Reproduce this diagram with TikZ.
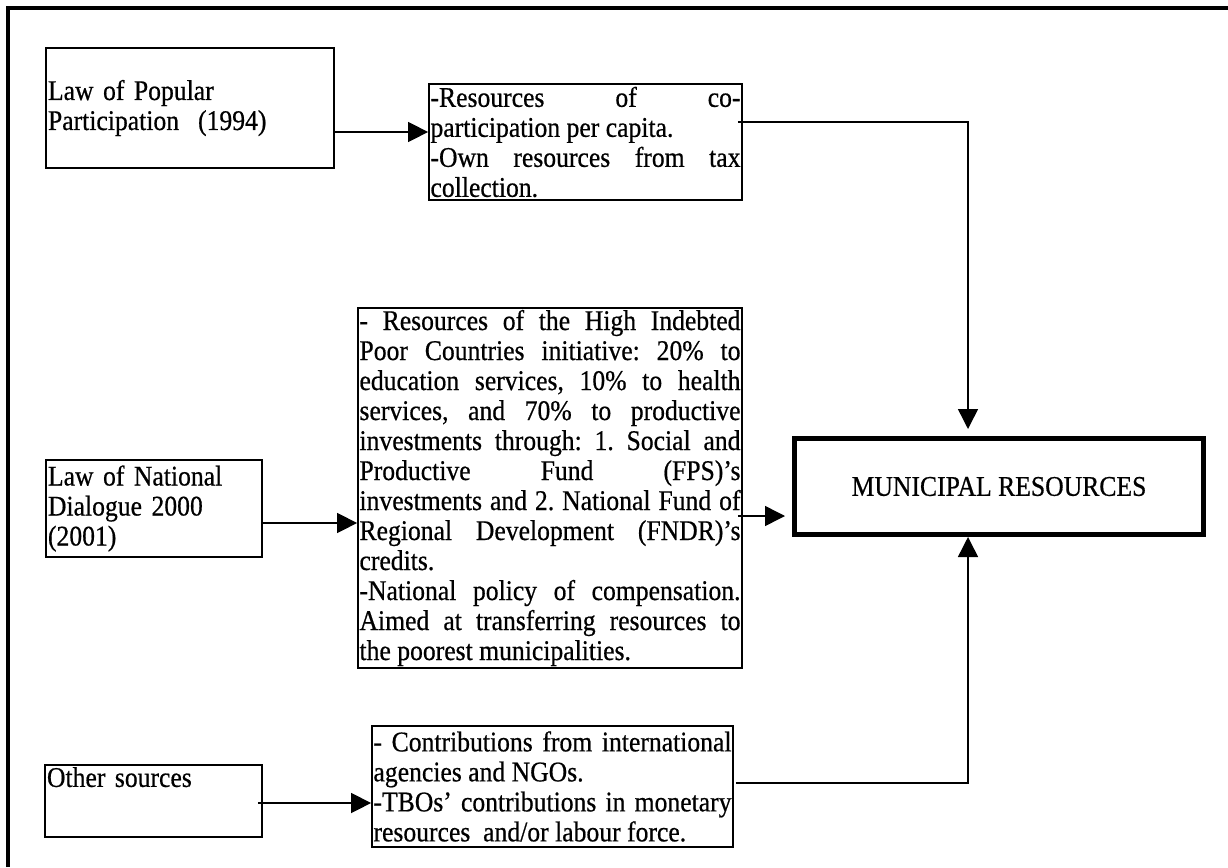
\documentclass[tikz,border=0pt]{standalone}
\usepackage{fontspec}
\setmainfont{Liberation Serif}[FakeStretch=0.9, FakeBold=0.6]
\usetikzlibrary{arrows.meta}

\begin{document}
\begin{tikzpicture}[x=1pt, y=-1pt, >={Triangle[length=20pt,width=20pt]},
  font=\fontsize{28.5pt}{30pt}\selectfont\frenchspacing,
  every law/.style={draw, line width=1.8pt, align=left, inner sep=2pt},
  every list/.style={draw, line width=1.8pt, align=justify, inner sep=1.5pt,
    font=\fontsize{28.5pt}{30pt}\selectfont\frenchspacing\sloppy},
  every link/.style={->, line width=1.5pt}]

\useasboundingbox (0,0) rectangle (1228,867);
\draw [line width=4pt] (7.5,867) -- (7.5,8) -- (1228,8);

% sources
\node [every law/.try, text width=284pt, minimum height=120pt] (lpp) at (190,108)
  {Law of Popular\\Participation\ \ (1994)};
\node [every law/.try, text width=212pt, minimum height=97pt] (nd) at (154,508.5)
  {Law of National\\Dialogue 2000\\(2001)};
\node [every law/.try, text width=213pt, text depth=48pt] (oth) at (153.5,801)
  {Other sources};

% resources
\node [every list/.try, text width=310pt, minimum height=116pt] (rcp) at (585.5,142)
  {-Resources of co-\linebreak participation per capita.\\-Own resources from tax\linebreak collection.};
\node [every list/.try, text width=381pt, minimum height=360pt] (dbox) at (550,488)
  {- Resources of the High Indebted\linebreak Poor Countries initiative: 20\% to\linebreak
   education services, 10\% to health\linebreak services, and 70\% to productive\linebreak
   investments through: 1. Social and\linebreak Productive Fund (FPS)'s\linebreak
   investments and 2. National Fund of\linebreak Regional Development (FNDR)'s\linebreak
   credits.\\-National policy of compensation.\linebreak Aimed at transferring resources to\linebreak
   the poorest municipalities.};
\node [every list/.try, text width=358pt, minimum height=121pt] (cbox) at (552.5,786.5)
  {- Contributions from international\linebreak agencies and NGOs.\\-TBOs' contributions in monetary\linebreak resources\ \ and/or labour force.};

% total
\node [draw, line width=5pt, minimum width=409pt, minimum height=96pt] (mun) at (999,486.5)
  {MUNICIPAL RESOURCES};

% links
\foreach \a/\b/\s/\t in {lpp/rcp/-24/0, nd/dbox/-14.5/0, oth/cbox/-2/-5}
  \draw [every link/.try] ([xshift=\t pt, yshift=\s pt]\a.east) coordinate (s) -- (s -| \b.west);

\draw [every link/.try, shorten >=7pt] ([xshift=-5pt, yshift=20pt]rcp.east) -| ([xshift=-31pt]mun.north);
\draw [every link/.try, shorten >=7pt] ([xshift=-5pt, yshift=-28pt]dbox.east) coordinate (t) -- (t -| mun.west);
\draw [every link/.try] ([xshift=2pt, yshift=3.5pt]cbox.east) -| ([xshift=-31pt]mun.south);

\end{tikzpicture}
\end{document}
